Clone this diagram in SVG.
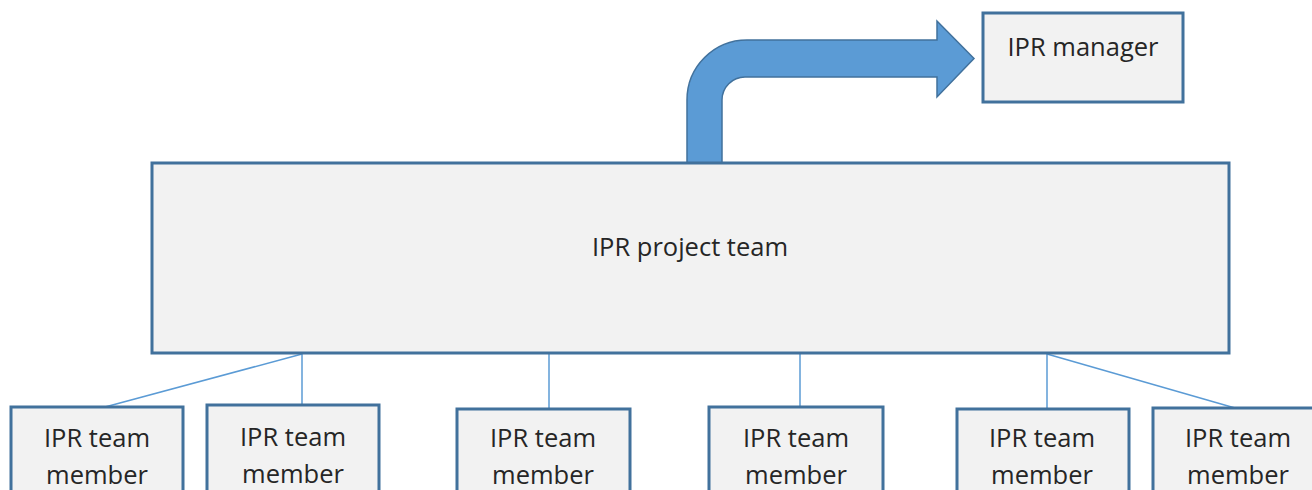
<svg xmlns="http://www.w3.org/2000/svg" width="1312" height="490" viewBox="0 0 1312 490">
  <style>
    .box { fill: #F2F2F2; stroke: #41719C; stroke-width: 3; }
    .label { font-family: "Open Sans", "Liberation Sans", sans-serif; font-size: 25.5px; fill: #262626; text-anchor: middle; }
    .link { stroke: #5B9BD5; stroke-width: 1.5; fill: none; }
    .bend { fill: #5B9BD5; stroke: #41719C; stroke-width: 1.5; stroke-linejoin: miter; }
  </style>

  <rect x="0" y="0" width="1312" height="490" fill="#FFFFFF"/>

  <!-- bent arrow from the project team up to the manager -->
  <g id="escalation-arrow">
    <path class="bend" d="M687,163 L687,100 A60,60 0 0 1 747,40 L937,40 L937,21 L974,58.5 L937,97 L937,77 L745,77 A23,23 0 0 0 722,100 L722,163 Z"/>
  </g>

  <!-- connectors from the project team to its members -->
  <g id="connectors">
    <line class="link" x1="302" y1="354" x2="105" y2="407"/>
    <line class="link" x1="302" y1="354" x2="302" y2="405"/>
    <line class="link" x1="549" y1="354" x2="549" y2="409"/>
    <line class="link" x1="800" y1="354" x2="800" y2="407"/>
    <line class="link" x1="1047" y1="354" x2="1047" y2="409"/>
    <line class="link" x1="1047" y1="354" x2="1235" y2="408"/>
  </g>

  <g id="ipr-manager">
    <rect class="box" x="983" y="13" width="200" height="89"/>
    <text class="label" x="1083" y="56">IPR manager</text>
  </g>

  <g id="ipr-project-team">
    <rect class="box" x="152" y="163" width="1077" height="190"/>
    <text class="label" x="690" y="256">IPR project team</text>
  </g>

  <g id="member-1">
    <rect class="box" x="11" y="407" width="172" height="100"/>
    <text class="label" x="97" y="447">IPR team</text>
    <text class="label" x="97" y="484">member</text>
  </g>

  <g id="member-2">
    <rect class="box" x="207" y="405" width="172" height="100"/>
    <text class="label" x="293" y="446">IPR team</text>
    <text class="label" x="293" y="483">member</text>
  </g>

  <g id="member-3">
    <rect class="box" x="457" y="409" width="173" height="100"/>
    <text class="label" x="543" y="447">IPR team</text>
    <text class="label" x="543" y="484">member</text>
  </g>

  <g id="member-4">
    <rect class="box" x="709" y="407" width="174" height="100"/>
    <text class="label" x="796" y="447">IPR team</text>
    <text class="label" x="796" y="484">member</text>
  </g>

  <g id="member-5">
    <rect class="box" x="957" y="409" width="172" height="100"/>
    <text class="label" x="1042" y="447">IPR team</text>
    <text class="label" x="1042" y="484">member</text>
  </g>

  <g id="member-6">
    <rect class="box" x="1153" y="408" width="174" height="100"/>
    <text class="label" x="1238" y="447">IPR team</text>
    <text class="label" x="1238" y="484">member</text>
  </g>
</svg>
